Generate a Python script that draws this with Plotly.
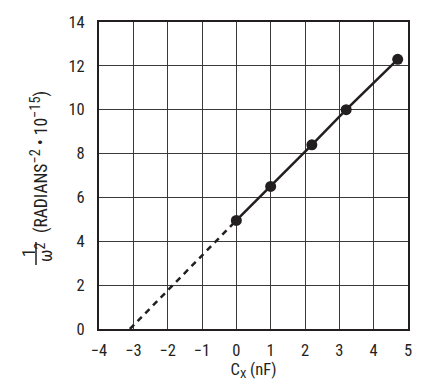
import plotly.graph_objects as go

# Data
cx_nf = [0.0, 1.0, 2.2, 3.2, 4.7]
inv_omega_sq = [4.95, 6.5, 8.4, 10.0, 12.3]
extrap_x = [-3.1, 0.0]
extrap_y = [0.0, 4.95]
x_ticks = [-4, -3, -2, -1, 0, 1, 2, 3, 4, 5]
x_tick_labels = ["\u22124", "\u22123", "\u22122", "\u22121", "0", "1", "2", "3", "4", "5"]
y_ticks = [0, 2, 4, 6, 8, 10, 12, 14]

FONT = "Liberation Sans Narrow, Arial Narrow, Roboto Condensed, sans-serif"
TXT = "#231f20"
FS = 16.5
FT = 17.5

fig = go.Figure()
fig.add_trace(go.Scatter(x=extrap_x, y=extrap_y, mode="lines",
                         line=dict(color=TXT, width=2.5, dash="6px,5px"),
                         showlegend=False, hoverinfo="skip"))
fig.add_trace(go.Scatter(x=cx_nf, y=inv_omega_sq, mode="lines+markers",
                         line=dict(color=TXT, width=2.5),
                         marker=dict(color=TXT, size=11),
                         showlegend=False))

# page body has an 8px margin; plot area spans x 99..408, y 22..329 in the window
fig.update_layout(
    width=427, height=377,
    margin=dict(l=91, r=27, t=14, b=56, autoexpand=False),
    paper_bgcolor="white", plot_bgcolor="white",
    font=dict(family=FONT, size=FS, color=TXT),
    xaxis=dict(range=[-4, 5], tickvals=x_ticks, ticktext=x_tick_labels,
               showgrid=True, gridcolor="#3a3a3a", gridwidth=1,
               showline=True, linecolor=TXT, linewidth=2, mirror=True,
               zeroline=False, ticks="", ticklabelstandoff=5, automargin=False,
               title=dict(text="C<sub>X</sub> (nF)", standoff=4,
                          font=dict(family=FONT, size=FS, color=TXT))),
    yaxis=dict(range=[0, 14], tickvals=y_ticks,
               showgrid=True, gridcolor="#3a3a3a", gridwidth=1,
               showline=True, linecolor=TXT, linewidth=2, mirror=True,
               zeroline=False, ticks="", ticklabelstandoff=9, automargin=False),
)

SUP = "<sup><span style='font-size:14.5px'>{}</span></sup>"
ytitle = ("(RADIANS" + SUP.format("\u22122") + " \u2022 10" +
          SUP.format("\u221215") + ")")

# y-axis title built from a rotated fraction and rotated text
fig.add_annotation(xref="paper", yref="paper", x=0, y=(329 - 162) / 307,
                   xshift=39 - 99, xanchor="center", yanchor="middle",
                   text=ytitle, textangle=-90, showarrow=False,
                   font=dict(family=FONT, size=FT, color=TXT))
fig.add_annotation(xref="paper", yref="paper", x=0, y=(329 - 253) / 307,
                   xshift=29 - 99, xanchor="center", yanchor="middle",
                   text="1", textangle=-90, showarrow=False,
                   font=dict(family=FONT, size=FT, color=TXT))
fig.add_annotation(xref="paper", yref="paper", x=0, y=(329 - 253) / 307,
                   xshift=44 - 99, xanchor="center", yanchor="middle",
                   text="\u03c9<sup><span style='font-size:14px'>2</span></sup>",
                   textangle=-90, showarrow=False,
                   font=dict(family=FONT, size=FT, color=TXT))
fig.add_shape(type="line", xref="paper", yref="paper",
              x0=(36 - 99) / 309, x1=(36 - 99) / 309,
              y0=(329 - 242) / 307, y1=(329 - 265) / 307,
              line=dict(color=TXT, width=1.5))

fig.write_html("out.html")
